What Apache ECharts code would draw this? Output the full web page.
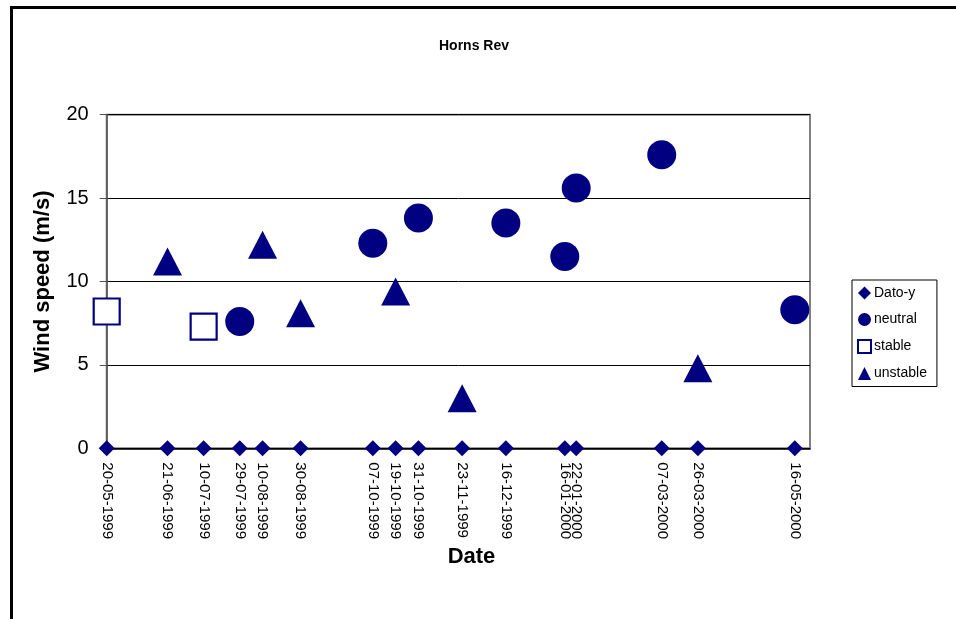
<!DOCTYPE html>
<html>
<head>
<meta charset="utf-8">
<script src="https://cdn.jsdelivr.net/npm/echarts@6/dist/echarts.min.js"></script>
<style>
  html, body { margin: 0; padding: 0; background: #fff; }
  #chart { width: 956px; height: 619px; }
</style>
</head>
<body>
<div id="chart"></div>
<script>
// Measurement dates shown on the date axis (Dato-y markers sit on y = 0)
const datoDates = ['1999-05-20', '1999-06-21', '1999-07-10', '1999-07-29', '1999-08-10', '1999-08-30',
  '1999-10-07', '1999-10-19', '1999-10-31', '1999-11-23', '1999-12-16', '2000-01-16',
  '2000-01-22', '2000-03-07', '2000-03-26', '2000-05-16'];

// Wind speed (m/s) by atmospheric stability class
const neutralDates = ['1999-07-29', '1999-10-07', '1999-10-31', '1999-12-16', '2000-01-16', '2000-01-22', '2000-03-07', '2000-05-16'];
const neutralSpeed = [7.6, 12.3, 13.8, 13.5, 11.5, 15.6, 17.6, 8.3];

const stableDates = ['1999-05-20', '1999-07-10'];
const stableSpeed = [8.2, 7.3];

const unstableDates = ['1999-06-21', '1999-08-10', '1999-08-30', '1999-10-19', '1999-11-23', '2000-03-26'];
const unstableSpeed = [11.2, 12.2, 8.1, 9.4, 3.0, 4.8];

// Axis ranges
const dateMin = '1999-05-20';
const dateMax = '2000-05-24';
const speedTicks = [0, 5, 10, 15, 20];

const NAVY = '#000080';
const FONT = 'Arial, "Liberation Sans", sans-serif';

// Dates are placed on a linear day-number scale (days since 1970-01-01, UTC)
function toDay(s) { return Math.round(Date.parse(s + 'T00:00:00Z') / 86400000); }
function pad(n) { return (n < 10 ? '0' : '') + n; }
function fmtDay(day) {
  const d = new Date(day * 86400000);
  return pad(d.getUTCDate()) + '-' + pad(d.getUTCMonth() + 1) + '-' + d.getUTCFullYear();
}
function pairs(dates, vals) { return dates.map((d, i) => [toDay(d), vals[i]]); }

const chart = echarts.init(document.getElementById('chart'), null, { renderer: 'canvas' });

chart.setOption({
  animation: false,
  backgroundColor: '#fff',
  textStyle: { fontFamily: FONT },
  graphic: [
    {
      type: 'polyline',
      shape: { points: [[11.5, 619], [11.5, 7.5], [956, 7.5]] },
      style: { stroke: '#000', lineWidth: 3, fill: null },
      silent: true
    },
    {
      type: 'text', x: 474, y: 46,
      style: { text: 'Horns Rev', font: 'bold 14px ' + FONT, fill: '#000', textAlign: 'center', textVerticalAlign: 'middle' }
    },
    {
      type: 'text', x: 471.5, y: 557,
      style: { text: 'Date', font: 'bold 22px ' + FONT, fill: '#000', textAlign: 'center', textVerticalAlign: 'middle' }
    }
  ],
  grid: {
    left: 106.7, right: 146, top: 114.7, bottom: 170.7,
    show: true, borderColor: '#808080', borderWidth: 2, backgroundColor: '#fff'
  },
  legend: {
    orient: 'vertical',
    left: 852, top: 280,
    padding: [6, 10, 6, 5],
    itemWidth: 13, itemHeight: 13, itemGap: 12.5,
    borderColor: '#000', borderWidth: 1,
    textStyle: { fontSize: 14, color: '#000', fontFamily: FONT, padding: [0, 0, 0, -2] },
    data: [
      { name: 'Dato-y', icon: 'diamond' },
      { name: 'neutral', icon: 'circle' },
      { name: 'stable', icon: 'rect' },
      { name: 'unstable', icon: 'triangle' }
    ]
  },
  xAxis: {
    type: 'value',
    min: toDay(dateMin),
    max: toDay(dateMax),
    axisLine: { show: true, onZero: false, lineStyle: { color: '#000', width: 1.5 } },
    axisTick: { show: false },
    splitLine: { show: false },
    axisLabel: {
      customValues: datoDates.map(toDay),
      formatter: v => fmtDay(v),
      rotate: -90,
      margin: 14,
      fontSize: 15,
      color: '#000',
      fontFamily: FONT,
      hideOverlap: false
    }
  },
  yAxis: {
    type: 'value',
    min: speedTicks[0],
    max: speedTicks[speedTicks.length - 1],
    interval: 5,
    name: 'Wind speed (m/s)',
    nameLocation: 'middle',
    nameGap: 53,
    nameTextStyle: { fontSize: 22, fontWeight: 'bold', color: '#000', fontFamily: FONT },
    axisLine: { show: true, lineStyle: { color: '#555', width: 1.5 } },
    axisTick: { show: true, inside: false, length: 7, lineStyle: { color: '#555' } },
    axisLabel: { fontSize: 20, color: '#000', margin: 18, fontFamily: FONT },
    splitLine: { show: true, lineStyle: { color: '#000', width: 1 } }
  },
  series: [
    {
      name: 'Dato-y', type: 'scatter', clip: false,
      symbol: 'diamond', symbolSize: 16,
      itemStyle: { color: NAVY, opacity: 1 },
      data: datoDates.map(d => [toDay(d), 0]),
      z: 3
    },
    {
      name: 'neutral', type: 'scatter', clip: false,
      symbol: 'circle', symbolSize: 29,
      itemStyle: { color: NAVY, opacity: 1 },
      data: pairs(neutralDates, neutralSpeed),
      z: 3
    },
    {
      name: 'stable', type: 'scatter', clip: false,
      symbol: 'rect', symbolSize: 26,
      itemStyle: { color: '#fff', borderColor: NAVY, borderWidth: 2.2, opacity: 1 },
      data: pairs(stableDates, stableSpeed),
      z: 3
    },
    {
      name: 'unstable', type: 'scatter', clip: false,
      symbol: 'triangle', symbolSize: [29, 28],
      itemStyle: { color: NAVY, opacity: 1 },
      data: pairs(unstableDates, unstableSpeed),
      z: 3
    }
  ]
});
</script>
</body>
</html>
